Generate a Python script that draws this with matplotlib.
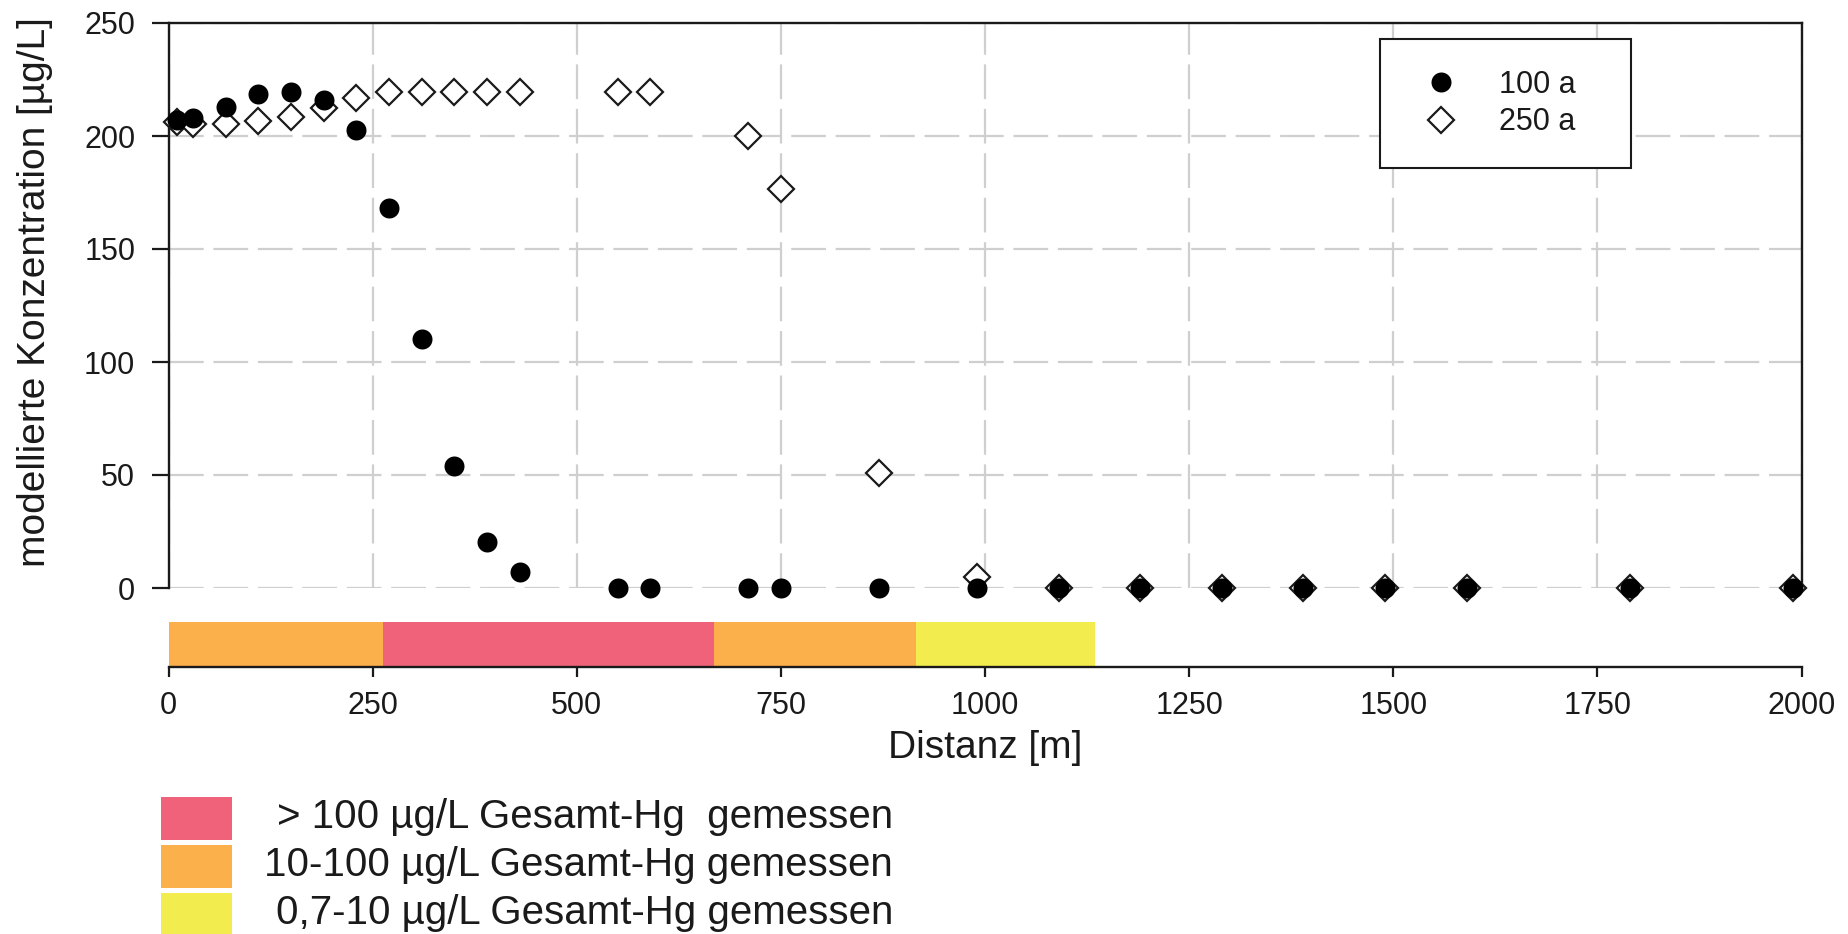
import matplotlib
matplotlib.use("Agg")
import matplotlib.pyplot as plt
from matplotlib.patches import Rectangle

plt.rcParams['font.family'] = ['Liberation Sans', 'DejaVu Sans']
plt.rcParams['lines.scale_dashes'] = False

# Modelled concentration along the flow path
distance = [10, 30, 70, 110, 150, 190, 230, 270, 310, 350, 390, 430, 550, 590,
            710, 750, 870, 990, 1090, 1190, 1290, 1390, 1490, 1590, 1790, 1990]
conc_100a = [207, 208, 213, 218.5, 219.5, 216, 202.5, 168, 110, 54, 20.5, 7,
             0, 0, 0, 0, 0, 0, 0, 0, 0, 0, 0, 0, 0, 0]
conc_250a = [206, 205.5, 205.5, 206.5, 208.5, 212.5, 217, 219.5, 219.5, 219.5,
             219.5, 219.5, 219.5, 219.5, 200, 176.5, 51, 5,
             0, 0, 0, 0, 0, 0, 0, 0]
series_labels = ["100 a", "250 a"]

# Measured total-Hg zones along the profile
zone_start = [0, 263, 668, 915]
zone_end = [263, 668, 915, 1135]
zone_class = [1, 0, 1, 2]
class_labels = ["> 100 µg/L Gesamt-Hg  gemessen",
                "10-100 µg/L Gesamt-Hg gemessen",
                "0,7-10 µg/L Gesamt-Hg gemessen"]
class_colors = ["#F0627A", "#FBB04B", "#F2EC4E"]

x_ticks = [0, 250, 500, 750, 1000, 1250, 1500, 1750, 2000]
y_ticks = [0, 50, 100, 150, 200, 250]

W, H = 1849, 934
ink = "#1a1a1a"
fig = plt.figure(figsize=(W / 100, H / 100), dpi=100)

L, R = 168.6, 1801.5
TOP, Y0, BOT = 23, 588, 667
ax2 = fig.add_axes([L / W, 1 - BOT / H, (R - L) / W, (BOT - Y0) / H])
ax = fig.add_axes([L / W, 1 - Y0 / H, (R - L) / W, (Y0 - TOP) / H], sharex=ax2)
ax.set_zorder(3)
ax2.patch.set_visible(False)

# main panel
ax.set_xlim(0, 2000)
ax.set_ylim(0, 250)
ax.set_yticks(y_ticks)
ax.set_xticks(x_ticks)
ax.spines['bottom'].set_visible(False)
for s in ('left', 'top', 'right'):
    ax.spines[s].set_linewidth(1.7)
    ax.spines[s].set_color(ink)
ax.tick_params(axis='y', length=12, width=1.6, pad=12, labelsize=22,
               colors=ink, direction='out')
ax.tick_params(axis='x', bottom=False, labelbottom=False)
ax.grid(True, color='#cfcfcf', lw=1.6, linestyle=(0, (25, 7)))

d = ax.plot(distance, conc_250a, linestyle='none', marker='D', ms=13.2,
            mfc='white', mec=ink, mew=1.6, clip_on=False, zorder=3,
            label=series_labels[1])[0]
c = ax.plot(distance, conc_100a, linestyle='none', marker='o', ms=14.4,
            mfc='black', mec='black', mew=0, clip_on=False, zorder=4,
            label=series_labels[0])[0]

ax.set_ylabel("modellierte Konzentration [µg/L]", fontsize=28, color=ink,
              va='center')
ax.yaxis.set_label_coords((35 - L) / (R - L), (Y0 - 292) / (Y0 - TOP))

leg = ax.legend(handles=[c, d], loc='upper left', mode='expand',
                bbox_to_anchor=(1380.5 / W, 1 - 166 / H, 250.5 / W, 127 / H),
                bbox_transform=fig.transFigure, borderaxespad=0,
                fontsize=22, handlelength=1.99, handletextpad=0.9,
                borderpad=1.0, labelspacing=0.26, fancybox=False,
                framealpha=1, edgecolor=ink)
leg.get_frame().set_linewidth(1.5)
for t in leg.get_texts():
    t.set_color(ink)

# zone strip
ax2.set_ylim(0, 1)
for s in ('left', 'top', 'right'):
    ax2.spines[s].set_visible(False)
ax2.spines['bottom'].set_linewidth(1.7)
ax2.spines['bottom'].set_color(ink)
ax2.set_yticks([])
ax2.set_xticks(x_ticks)
ax2.tick_params(axis='x', length=7, width=1.6, pad=10, labelsize=22,
                colors=ink, direction='out')
band_h = (BOT - 621.5) / (BOT - Y0)
ax2.barh([0] * len(zone_start),
         [e - s for s, e in zip(zone_start, zone_end)],
         left=zone_start, height=band_h, align='edge',
         color=[class_colors[k] for k in zone_class], linewidth=0)
ax2.set_xlabel("Distanz [m]", fontsize=28, color=ink, va='center')
ax2.xaxis.set_label_coords(0.5, -(748 - BOT) / (BOT - Y0))

# zone legend
for i, (lab, col) in enumerate(zip(class_labels, class_colors)):
    top = 797 + i * 48
    fig.add_artist(Rectangle((161.5 / W, 1 - (top + 43) / H), 71 / W, 43 / H,
                             transform=fig.transFigure, facecolor=col,
                             edgecolor='none'))
    fig.text(893 / W, 1 - (top + 20) / H, lab, ha='right', va='center',
             fontsize=29, color=ink)

fig.savefig("out.png", dpi=100)
